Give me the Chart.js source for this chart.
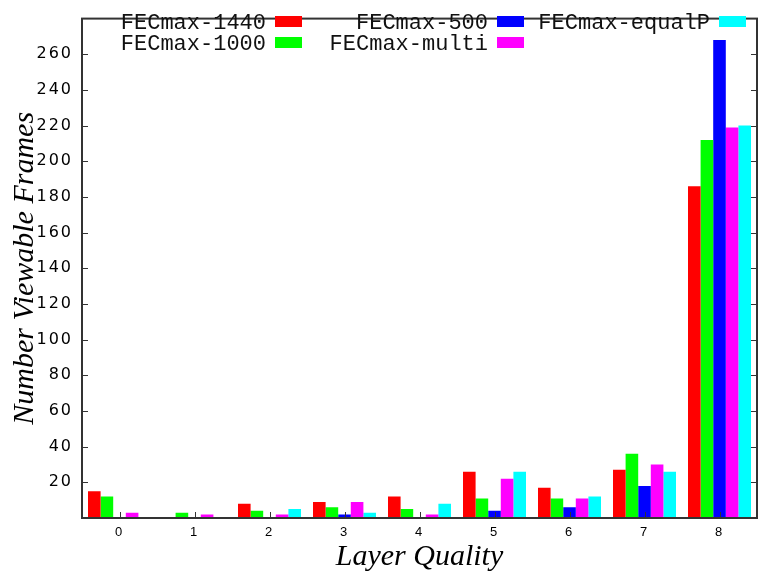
<!DOCTYPE html>
<html>
<head>
<meta charset="utf-8">
<title>Viewable frames per layer</title>
<script src="https://cdn.jsdelivr.net/npm/chart.js@4.4.1/dist/chart.umd.min.js"></script>
<style>
    html, body { margin: 0; padding: 0; background: #fff; }
    #wrap { width: 758px; height: 578px; }
</style>
</head>
<body>
<div id="wrap"><canvas id="frames-chart" width="758" height="578"></canvas></div>
<script>
// --- DATA ---
const layerLabels = ['0', '1', '2', '3', '4', '5', '6', '7', '8'];
const fec1440   = [15, 0, 8, 9, 12, 26, 17, 27, 186];
const fec1000   = [12, 3, 4, 6, 5, 11, 11, 36, 212];
const fec500    = [0, 0, 0, 2, 0, 4, 6, 18, 268];
const fecMulti  = [3, 2, 2, 9, 2, 22, 11, 30, 219];
const fecEqualP = [0, 0, 5, 3, 8, 26, 12, 26, 220];
const yTickValues = [20, 40, 60, 80, 100, 120, 140, 160, 180, 200, 220, 240, 260];

// --- PLUGINS ---
// box around the plot with inward tick marks, gnuplot style
const framePlugin = {
    id: 'frame',
    afterDatasetsDraw(chart) {
        const { ctx, chartArea: a, scales } = chart;
        ctx.save();
        ctx.strokeStyle = '#333';
        ctx.lineWidth = 1;
        ctx.beginPath();
        yTickValues.forEach(v => {
            const y = Math.round(scales.y.getPixelForValue(v)) + 0.5;
            ctx.moveTo(a.left, y); ctx.lineTo(a.left + 6, y);
            ctx.moveTo(a.right, y); ctx.lineTo(a.right - 6, y);
        });
        layerLabels.forEach((_, i) => {
            const x = Math.round(scales.x.getPixelForValue(i)) + 0.5;
            ctx.moveTo(x, a.bottom); ctx.lineTo(x, a.bottom - 6);
        });
        ctx.stroke();
        ctx.lineWidth = 2;
        ctx.strokeRect(a.left, a.top, a.right - a.left, a.bottom - a.top);
        ctx.restore();

        // tick labels are drawn after this hook; give them wider spacing
        ctx.letterSpacing = '2px';
    },
    afterDraw(chart) {
        chart.ctx.letterSpacing = '0px';
    }
};

// legend laid out in two rows, filled column by column
const legendPlugin = {
    id: 'gridLegend',
    afterDraw(chart) {
        const ctx = chart.ctx;
        ctx.save();
        ctx.letterSpacing = '0px';
        ctx.font = '22px "Liberation Mono", "DejaVu Sans Mono", monospace';
        ctx.textAlign = 'right';
        ctx.textBaseline = 'middle';
        chart.data.datasets.forEach((ds, i) => {
            const col = Math.floor(i / 2);
            const row = i % 2;
            const boxX = 275 + col * 222;
            const boxY = 16 + row * 21;
            ctx.fillStyle = ds.backgroundColor;
            ctx.fillRect(boxX, boxY, 27, 11);
            ctx.fillStyle = '#111';
            ctx.fillText(ds.label, boxX - 9, boxY + 7);
        });
        ctx.restore();
    }
};

// --- CHART ---
const series = [
    { label: 'FECmax-1440', data: fec1440, color: '#ff0000' },
    { label: 'FECmax-1000', data: fec1000, color: '#00ff00' },
    { label: 'FECmax-500', data: fec500, color: '#0000ff' },
    { label: 'FECmax-multi', data: fecMulti, color: '#ff00ff' },
    { label: 'FECmax-equalP', data: fecEqualP, color: '#00ffff' }
];

new Chart(document.getElementById('frames-chart'), {
    type: 'bar',
    data: {
        labels: layerLabels,
        datasets: series.map(s => ({
            label: s.label,
            data: s.data,
            backgroundColor: s.color,
            borderWidth: 0,
            categoryPercentage: 0.84,
            barPercentage: 1.0
        }))
    },
    options: {
        responsive: false,
        animation: false,
        layout: { padding: { top: 5, right: 1, left: 0, bottom: 0 } },
        plugins: {
            legend: { display: false },
            tooltip: { enabled: false }
        },
        scales: {
            x: {
                offset: true,
                grid: { display: false, drawTicks: false },
                border: { display: false },
                ticks: {
                    z: 1,
                    padding: 7,
                    color: '#000',
                    font: { family: '"Liberation Sans", Arial, sans-serif', size: 13 }
                },
                title: {
                    display: true,
                    text: 'Layer Quality',
                    color: '#000',
                    padding: { top: 0, bottom: 3 },
                    font: { family: '"Liberation Serif", serif', size: 30, style: 'italic' }
                },
                afterFit(scale) { scale.height = 60; }
            },
            y: {
                min: 0,
                max: 280,
                grid: { display: false, drawTicks: false },
                border: { display: false },
                ticks: {
                    z: 1,
                    stepSize: 20,
                    padding: 9,
                    color: '#000',
                    font: { family: '"DejaVu Sans", sans-serif', size: 16 },
                    callback: v => (v === 0 || v === 280) ? '' : v
                },
                title: {
                    display: true,
                    text: 'Number Viewable Frames',
                    color: '#000',
                    padding: { top: 7, bottom: 0 },
                    font: { family: '"Liberation Serif", serif', size: 30, style: 'italic' }
                },
                afterFit(scale) { scale.width = 82; }
            }
        }
    },
    plugins: [framePlugin, legendPlugin]
});
</script>
</body>
</html>
